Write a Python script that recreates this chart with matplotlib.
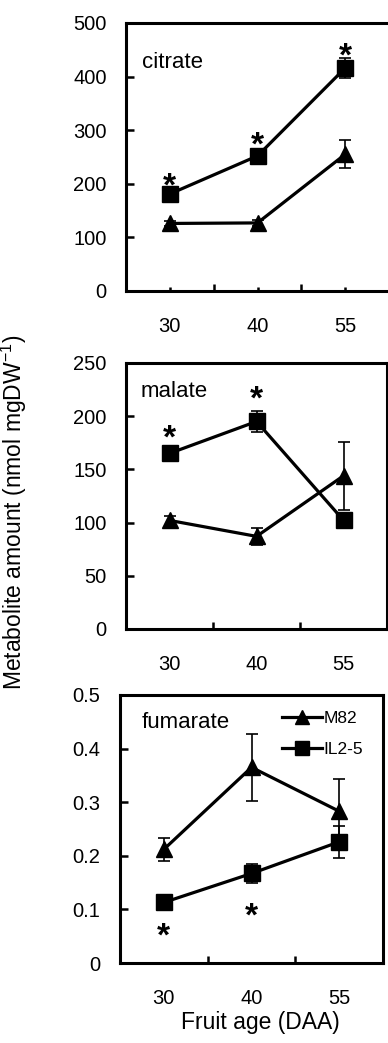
import numpy as np
import matplotlib
matplotlib.use("Agg")
import matplotlib.pyplot as plt
from matplotlib.ticker import FixedLocator
from matplotlib.lines import Line2D

plt.rcParams['font.family'] = ['Liberation Sans', 'DejaVu Sans']
plt.rcParams['mathtext.fontset'] = 'custom'
plt.rcParams['mathtext.rm'] = 'Liberation Sans'
plt.rcParams['mathtext.it'] = 'Liberation Sans'

# data
ages = ["30", "40", "55"]

citrate_m82 = [126, 127, 255]
citrate_m82_err = [5, 5, 26]
citrate_il = [181, 252, 416]
citrate_il_err = [6, 6, 18]
citrate_stars = [211, 287, 452]  # over IL2-5, y of star centre

malate_m82 = [102, 87, 144]
malate_m82_err = [4, 8, 32]
malate_il = [165, 195, 102]
malate_il_err = [4, 10, 4]
malate_stars = [187, 223, None]

fumarate_m82 = [0.212, 0.365, 0.283]
fumarate_m82_err = [0.021, 0.063, 0.06]
fumarate_il = [0.113, 0.167, 0.226]
fumarate_il_err = [0.01, 0.017, 0.03]
fumarate_stars = [0.065, 0.103, None]

panels = [
    ("citrate", citrate_m82, citrate_m82_err, citrate_il, citrate_il_err, citrate_stars,
     [0, 100, 200, 300, 400, 500], ["0", "100", "200", "300", "400", "500"],
     [0.3247, 0.721, 0.678, 0.257], (0.061, 0.854), True),
    ("malate", malate_m82, malate_m82_err, malate_il, malate_il_err, malate_stars,
     [0, 50, 100, 150, 200, 250], ["0", "50", "100", "150", "200", "250"],
     [0.3247, 0.397, 0.673, 0.255], (0.054, 0.892), False),
    ("fumarate", fumarate_m82, fumarate_m82_err, fumarate_il, fumarate_il_err, fumarate_stars,
     [0, 0.1, 0.2, 0.3, 0.4, 0.5], ["0", "0.1", "0.2", "0.3", "0.4", "0.5"],
     [0.3093, 0.0767, 0.678, 0.257], (0.084, 0.896), False),
]

fig = plt.figure(figsize=(3.88, 10.43), dpi=100)
x = np.arange(len(ages))

for name, m82, m82_err, il, il_err, stars, yt, ytl, pos, lab_pos, minor_ticks in panels:
    ax = fig.add_axes(pos)
    ax.errorbar(x, m82, yerr=m82_err, color='black', lw=2.3, marker='^', ms=12,
                ecolor='black', elinewidth=1.2, capsize=4, capthick=1.2)
    ax.errorbar(x, il, yerr=il_err, color='black', lw=2.3, marker='s', ms=11,
                ecolor='black', elinewidth=1.2, capsize=4, capthick=1.2)
    for i, s in enumerate(stars):
        if s is not None:
            ax.annotate('*', xy=(x[i], s), xytext=(0, -12.5), textcoords='offset points',
                        ha='center', va='baseline', fontsize=24, fontweight='bold')
    ax.text(lab_pos[0], lab_pos[1], name, transform=ax.transAxes, fontsize=16,
            ha='left', va='center')

    ax.set_xlim(-0.5, 2.5)
    ax.set_ylim(yt[0], yt[-1])
    ax.set_yticks(yt)
    ax.set_yticklabels(ytl, fontsize=14.5)
    ax.set_xticks(x)
    ax.set_xticklabels(ages, fontsize=14.5)
    ax.xaxis.set_minor_locator(FixedLocator([0.5, 1.5]))
    ax.tick_params(axis='y', direction='in', length=6, width=1.8, pad=14)
    ax.tick_params(axis='x', which='major', direction='in',
                   length=3 if minor_ticks else 0, width=1.8, pad=19)
    ax.tick_params(axis='x', which='minor', direction='in', length=5, width=1.8)
    for sp in ax.spines.values():
        sp.set_linewidth(2.2)
        sp.set_color('black')

    if name == "fumarate":
        handles = [Line2D([], [], color='black', lw=2.3, marker='^', ms=10),
                   Line2D([], [], color='black', lw=2.3, marker='s', ms=9.5)]
        ax.legend(handles, ['M82', 'IL2-5'], loc='upper left', bbox_to_anchor=(0.615, 0.94),
                  frameon=False, fontsize=12.5, handlelength=2.3, handletextpad=0.1,
                  labelspacing=0.9, borderpad=0, borderaxespad=0, numpoints=1)

fig.text(14 / 388, 1 - 512 / 1043, 'Metabolite amount (nmol mgDW$^{\\mathrm{-1}}$)',
         rotation=90, ha='center', va='center', fontsize=16.5)
fig.text(260 / 388, 1 - 1023 / 1043, 'Fruit age (DAA)', ha='center', va='center', fontsize=16.5)

fig.savefig('out.png', dpi=100)
